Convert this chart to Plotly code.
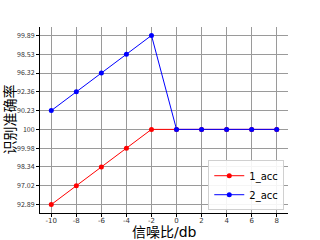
import plotly.graph_objects as go

snr = [-10, -8, -6, -4, -2, 0, 2, 4, 6, 8]
acc1 = ["92.89", "97.02", "98.34", "99.98", "100", "100", "100", "100", "100", "100"]
acc2 = ["90.23", "92.36", "96.32", "98.53", "99.89", "100", "100", "100", "100", "100"]
y_categories = ["92.89", "97.02", "98.34", "99.98", "100", "90.23", "92.36", "96.32", "98.53", "99.89"]
x_tickvals = [-10, -8, -6, -4, -2, 0, 2, 4, 6, 8]
x_ticktext = ["-10", "-8", "-6", "-4", "-2", "0", "2", "4", "6", "8"]
x_title = "信噪比/db"
y_title = "识别准确率"

font = "Noto Sans CJK SC"
tight = "DejaVu Sans, Noto Sans CJK SC"

fig = go.Figure()
fig.add_trace(go.Scatter(x=snr, y=acc1, mode="lines+markers", name="1_acc",
                         line=dict(color="#ff0000", width=1),
                         marker=dict(color="#ff0000", size=5)))
fig.add_trace(go.Scatter(x=snr, y=acc2, mode="lines+markers", name="2_acc",
                         line=dict(color="#0000ff", width=1),
                         marker=dict(color="#0000ff", size=5)))

fig.update_layout(
    width=320, height=240,
    margin=dict(l=40, r=32, t=27, b=27),
    paper_bgcolor="white", plot_bgcolor="white",
    font=dict(family=font, color="#333333", size=7),
    legend=dict(x=0.985, y=0.015, xanchor="right", yanchor="bottom",
                bgcolor="rgba(255,255,255,0.9)", bordercolor="#d0d0d0", borderwidth=1,
                font=dict(family="DejaVu Sans", size=10, color="#000000"),
                tracegroupgap=0, itemwidth=30),
    xaxis=dict(range=[-10.9, 8.9], tickvals=x_tickvals, ticktext=x_ticktext,
               showgrid=True, gridcolor="#9a9a9a", gridwidth=1,
               showline=True, linecolor="#000000", linewidth=1,
               ticks="outside", ticklen=3, tickcolor="#000000",
               tickfont=dict(family="DejaVu Sans", size=7),
               ticklabelstandoff=-2,
               zeroline=False, mirror=False, automargin=False),
    yaxis=dict(type="category", categoryorder="array", categoryarray=y_categories,
               range=[-0.45, 9.45],
               showgrid=True, gridcolor="#9a9a9a", gridwidth=1,
               showline=True, linecolor="#000000", linewidth=1,
               ticks="outside", ticklen=3, tickcolor="#000000",
               zeroline=False, automargin=False),
    annotations=[
        dict(text=x_title, xref="paper", yref="paper", x=0.5, y=-0.102,
             xanchor="center", yanchor="middle", showarrow=False, borderpad=0,
             font=dict(family=tight, size=14, color="#000000")),
        dict(text=y_title, xref="paper", yref="paper", x=-0.127, y=0.5,
             xanchor="center", yanchor="middle", showarrow=False, textangle=-90,
             borderpad=0,
             font=dict(family=font, size=14, color="#000000")),
    ],
)

fig.write_html("out.html")
